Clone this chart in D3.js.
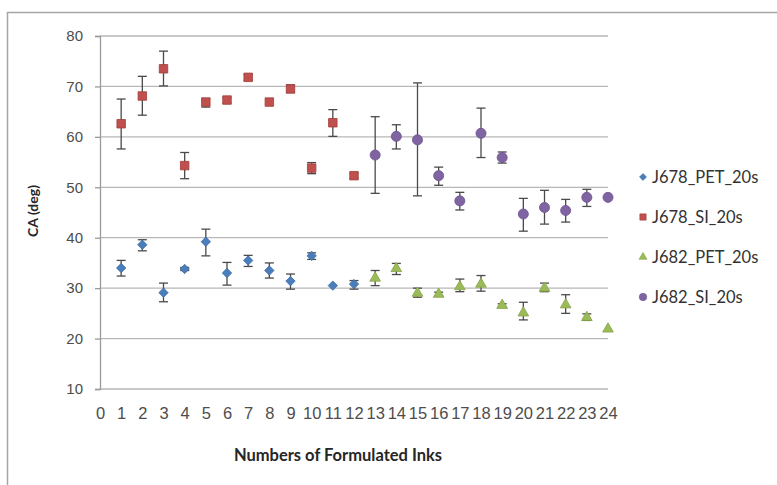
<!DOCTYPE html>
<html>
<head>
<script src="https://cdn.jsdelivr.net/npm/d3@7"></script>
<style>
  html, body { margin: 0; padding: 0; background: #fff; overflow: hidden; }
  svg { display: block; font-family: Lato, "Liberation Sans", sans-serif; }
</style>
</head>
<body>
<script>
"use strict";

// Data: [ink number, mean, lower end of bar, upper end of bar]
const J678_PET = [
  [1, 34.0, 32.4, 35.5], [2, 38.6, 37.4, 39.6], [3, 29.1, 27.3, 31.0],
  [4, 33.8, 33.5, 34.1], [5, 39.2, 36.4, 41.7], [6, 33.0, 30.6, 35.1],
  [7, 35.5, 34.3, 36.5], [8, 33.5, 32.0, 35.0], [9, 31.4, 29.8, 32.8],
  [10, 36.4, 35.7, 37.0], [11, 30.5, 30.5, 30.5], [12, 30.8, 29.8, 31.5]
];
const J678_SI = [
  [1, 62.6, 57.6, 67.5], [2, 68.1, 64.3, 72.0], [3, 73.5, 70.1, 77.0],
  [4, 54.3, 51.7, 56.9], [5, 66.9, 65.9, 67.6], [6, 67.3, 66.7, 67.8],
  [7, 71.8, 71.2, 72.4], [8, 66.9, 66.9, 66.9], [9, 69.5, 68.8, 70.3],
  [10, 53.8, 52.7, 54.9], [11, 62.8, 60.1, 65.4], [12, 52.3, 51.8, 52.8]
];
const J682_PET = [
  [13, 32.0, 30.5, 33.5], [14, 33.9, 32.7, 34.9], [15, 29.0, 28.2, 30.0],
  [16, 28.8, 28.4, 29.2], [17, 30.3, 29.3, 31.8], [18, 30.8, 29.4, 32.5],
  [19, 26.6, 26.3, 26.9], [20, 25.1, 23.7, 27.2], [21, 30.0, 29.3, 31.0],
  [22, 26.7, 25.0, 28.7], [23, 24.2, 23.6, 24.9], [24, 21.9, 21.9, 21.9]
];
const J682_SI = [
  [13, 56.4, 48.8, 64.0], [14, 60.1, 57.6, 62.4], [15, 59.4, 48.3, 70.7],
  [16, 52.3, 50.4, 54.0], [17, 47.3, 45.5, 49.0], [18, 60.7, 55.9, 65.7],
  [19, 55.9, 54.8, 57.0], [20, 44.7, 41.3, 47.8], [21, 46.0, 42.7, 49.4],
  [22, 45.4, 43.1, 47.6], [23, 48.0, 46.2, 49.6], [24, 48.0, 48.0, 48.0]
];
const seriesNames = ["J678_PET_20s", "J678_SI_20s", "J682_PET_20s", "J682_SI_20s"];
const xTicks = d3.range(0, 25);
const yTicks = [10, 20, 30, 40, 50, 60, 70, 80];

const WIDTH = 777, HEIGHT = 485;
const PLOT = { left: 100, right: 608, top: 36, bottom: 389 };

// Excel style diamond: a square turned 45 degrees
const symbolDiamondSquare = {
  draw(context, size) {
    const r = Math.sqrt(size / 2);
    context.moveTo(0, -r);
    context.lineTo(r, 0);
    context.lineTo(0, r);
    context.lineTo(-r, 0);
    context.closePath();
  }
};

const SERIES = [
  { name: seriesNames[0], data: J678_PET, shape: symbolDiamondSquare, size: 44, fill: "#4a7ebb", stroke: "#3c6aa3" },
  { name: seriesNames[1], data: J678_SI, shape: d3.symbolSquare, size: 72, fill: "#c0504d", stroke: "#a03c39" },
  { name: seriesNames[2], data: J682_PET, shape: d3.symbolTriangle, size: 50, fill: "#9bbb59", stroke: "#86a449" },
  { name: seriesNames[3], data: J682_SI, shape: d3.symbolCircle, size: 80, fill: "#8064a2", stroke: "#6e5490" }
];

const svg = d3.select("body").append("svg")
  .attr("width", WIDTH)
  .attr("height", HEIGHT);

// outer chart frame (right and bottom edges fall outside the picture)
svg.append("rect")
  .attr("x", 7.5).attr("y", 12.5)
  .attr("width", 820).attr("height", 520)
  .attr("fill", "#fff")
  .attr("stroke", "#a6a6a6")
  .attr("stroke-width", 1.5);

const x = d3.scaleLinear().domain([0, 24]).range([PLOT.left, PLOT.right]);
const y = d3.scaleLinear().domain([10, 80]).range([PLOT.bottom, PLOT.top]);

// horizontal gridlines
svg.append("g")
  .selectAll("line")
  .data(yTicks)
  .join("line")
  .attr("x1", PLOT.left).attr("x2", PLOT.right)
  .attr("y1", d => y(d)).attr("y2", d => y(d))
  .attr("stroke", "#b7b7b7")
  .attr("stroke-width", 1.3);

// y axis
const yAxis = svg.append("g")
  .attr("transform", `translate(${PLOT.left},0)`)
  .call(d3.axisLeft(y).tickValues(yTicks).tickSize(5).tickPadding(12));
yAxis.select(".domain").attr("stroke", "#9a9a9a").attr("stroke-width", 1.3);
yAxis.selectAll(".tick line").attr("stroke", "#9a9a9a").attr("stroke-width", 1.3);
yAxis.selectAll("text").attr("fill", "#4d4d4d").style("font-size", "15px");

// x axis: labels only, the 10 gridline acts as the baseline
const xAxis = svg.append("g")
  .attr("transform", `translate(0,${PLOT.bottom})`)
  .call(d3.axisBottom(x).tickValues(xTicks).tickSize(0).tickPadding(18));
xAxis.select(".domain").remove();
xAxis.selectAll("text").attr("fill", "#4d4d4d").style("font-size", "16.5px");

// error bars
const errG = svg.append("g")
  .attr("stroke", "#4a4a4a")
  .attr("stroke-width", 1.3)
  .attr("fill", "none");
SERIES.forEach(s => {
  s.data.filter(d => d[3] - d[2] > 0.1).forEach(d => {
    const cx = x(d[0]);
    errG.append("line").attr("x1", cx).attr("x2", cx).attr("y1", y(d[2])).attr("y2", y(d[3]));
    errG.append("line").attr("x1", cx - 4.5).attr("x2", cx + 4.5).attr("y1", y(d[2])).attr("y2", y(d[2]));
    errG.append("line").attr("x1", cx - 4.5).attr("x2", cx + 4.5).attr("y1", y(d[3])).attr("y2", y(d[3]));
  });
});

// markers
SERIES.forEach(s => {
  svg.append("g")
    .selectAll("path")
    .data(s.data)
    .join("path")
    .attr("transform", d => `translate(${x(d[0])},${y(d[1])})`)
    .attr("d", d3.symbol().type(s.shape).size(s.size))
    .attr("fill", s.fill)
    .attr("stroke", s.stroke)
    .attr("stroke-width", 0.8);
});

// axis titles
svg.append("text")
  .attr("transform", "translate(38,211) rotate(-90)")
  .attr("text-anchor", "middle")
  .attr("fill", "#262626")
  .style("font-size", "14px")
  .style("font-weight", "bold")
  .text("CA (deg)");

svg.append("text")
  .attr("x", 338).attr("y", 461)
  .attr("text-anchor", "middle")
  .attr("fill", "#262626")
  .style("font-size", "16.5px")
  .style("font-weight", "bold")
  .text("Numbers of Formulated Inks");

// legend
const legend = svg.append("g")
  .selectAll("g")
  .data(SERIES)
  .join("g")
  .attr("transform", (d, i) => `translate(643,${177 + i * 40})`);
legend.append("path")
  .attr("d", d => d3.symbol().type(d.shape).size(d.size * 0.55)())
  .attr("fill", d => d.fill)
  .attr("stroke", d => d.stroke)
  .attr("stroke-width", 0.6);
legend.append("text")
  .attr("x", 9)
  .attr("dy", "0.35em")
  .attr("fill", "#333")
  .style("font-size", "16.5px")
  .text(d => d.name);
</script>
</body>
</html>
